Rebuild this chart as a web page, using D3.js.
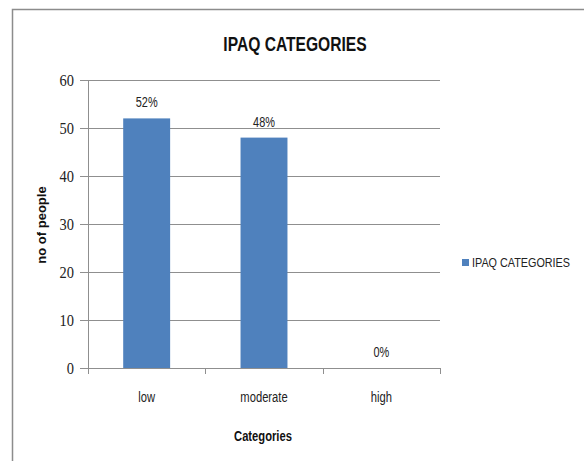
<!DOCTYPE html>
<html>
<head>
<meta charset="utf-8">
<script src="https://cdn.jsdelivr.net/npm/d3@7"></script>
<style>
  body { margin: 0; background: #fff; }
  svg { display: block; }
</style>
</head>
<body>
<div id="chart"></div>
<script>
const categories = ['low', 'moderate', 'high'];
const values = [52, 48, 0];
const pctLabels = ['52%', '48%', '0%'];
const yTicks = [0, 10, 20, 30, 40, 50, 60];
const seriesName = 'IPAQ CATEGORIES';

const W = 584, H = 461;
const margin = {top: 80, left: 88};
const width = 352, height = 288;
const narrow = "'Liberation Sans Narrow', 'Arial Narrow', 'Liberation Sans', sans-serif";

const svg = d3.select('#chart').append('svg')
  .attr('width', W).attr('height', H);

// squeeze text horizontally, like a Calibri-ish narrow face
function squeeze(sel, f) {
  sel.each(function() {
    const t = d3.select(this);
    const len = this.getComputedTextLength();
    t.attr('textLength', len * f).attr('lengthAdjust', 'spacingAndGlyphs');
  });
}

// outer chart frame
svg.append('path')
  .attr('d', 'M12.5,' + H + ' V9.5 H' + W)
  .attr('fill', 'none').attr('stroke', '#8c8c8c').attr('stroke-width', 1.5);

const g = svg.append('g')
  .attr('transform', 'translate(' + margin.left + ',' + margin.top + ')');

const x = d3.scaleBand().domain(categories).range([0, width]).paddingInner(0.6).paddingOuter(0.3);
const y = d3.scaleLinear().domain([0, 60]).range([height, 0]);
const xb = d3.scaleBand().domain(categories).range([0, width]);

// gridlines
g.selectAll('.grid').data(yTicks.slice(1)).enter().append('line')
  .attr('x1', -8).attr('x2', width)
  .attr('y1', d => Math.round(y(d)) + 0.5).attr('y2', d => Math.round(y(d)) + 0.5)
  .attr('stroke', '#8f8f8f').attr('stroke-width', 1);

// y axis
const yAxis = g.append('g').call(d3.axisLeft(y).tickValues(yTicks).tickSize(8).tickPadding(6));
yAxis.select('.domain').remove();
yAxis.selectAll('line').attr('stroke', '#8f8f8f');
yAxis.selectAll('text')
  .style('font-family', "'Liberation Serif', 'Times New Roman', serif")
  .style('font-size', '17px').attr('fill', '#222');
squeeze(yAxis.selectAll('text'), 0.85);
g.append('line').attr('x1', 0.5).attr('x2', 0.5).attr('y1', 0).attr('y2', height + 5)
  .attr('stroke', '#8f8f8f');

// bars
g.selectAll('.bar').data(values).enter().append('rect')
  .attr('x', (d, i) => x(categories[i]))
  .attr('y', d => y(d))
  .attr('width', x.bandwidth())
  .attr('height', d => height - y(d))
  .attr('fill', '#4f81bd');

// data labels
const lbl = g.selectAll('.lbl').data(values).enter().append('text')
  .attr('x', (d, i) => x(categories[i]) + x.bandwidth() / 2)
  .attr('y', d => y(d) - 11)
  .attr('text-anchor', 'middle')
  .style('font-family', narrow).style('font-size', '14px').attr('fill', '#222')
  .text((d, i) => pctLabels[i]);
squeeze(lbl, 0.78);

// x axis
const xAxis = g.append('g').attr('transform', 'translate(0,' + height + ')')
  .call(d3.axisBottom(xb).tickSize(0).tickPadding(24));
xAxis.select('.domain').attr('stroke', '#8f8f8f').attr('d', 'M0,0.5H' + width);
xAxis.selectAll('text').style('font-family', narrow).style('font-size', '14px').attr('fill', '#222');
squeeze(xAxis.selectAll('text'), 0.8);
g.selectAll('.xt').data(d3.range(categories.length + 1)).enter().append('line')
  .attr('x1', d => Math.round(d * xb.step()) + 0.5).attr('x2', d => Math.round(d * xb.step()) + 0.5)
  .attr('y1', height).attr('y2', height + 6).attr('stroke', '#8f8f8f');

// titles
const title = svg.append('text').attr('x', 295).attr('y', 51).attr('text-anchor', 'middle')
  .style('font-family', narrow).style('font-size', '20px').style('font-weight', 'bold')
  .attr('fill', '#111').text(seriesName);
squeeze(title, 0.78);
const xTitle = svg.append('text').attr('x', margin.left + width / 2 - 1).attr('y', 441).attr('text-anchor', 'middle')
  .style('font-family', narrow).style('font-size', '14px').style('font-weight', 'bold')
  .attr('fill', '#111').text('Categories');
squeeze(xTitle, 0.8);
svg.append('text').attr('transform', 'translate(46,225) rotate(-90)').attr('text-anchor', 'middle')
  .style('font-family', "'Liberation Sans', Arial, sans-serif").style('font-size', '13px').style('font-weight', 'bold')
  .attr('fill', '#111').text('no of people');

// legend
const lg = svg.append('g').attr('transform', 'translate(462,259)');
lg.append('rect').attr('width', 7).attr('height', 7).attr('fill', '#4f81bd');
const lgText = lg.append('text').attr('x', 10).attr('y', 8)
  .style('font-family', narrow).style('font-size', '12px').attr('fill', '#222').text(seriesName);
squeeze(lgText, 0.9);
</script>
</body>
</html>
